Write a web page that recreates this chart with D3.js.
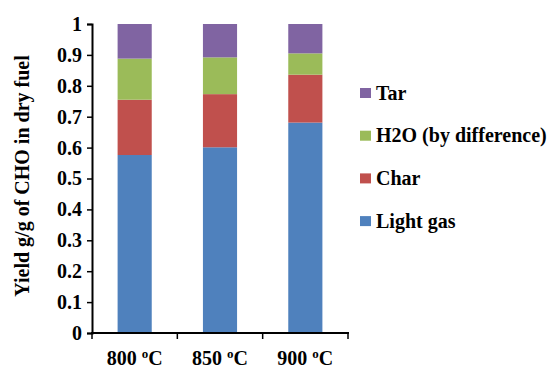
<!DOCTYPE html>
<html><head><meta charset="utf-8">
<script src="https://cdn.jsdelivr.net/npm/d3@7"></script>
<style>body{margin:0;background:#fff}svg{display:block}text{font-family:"Liberation Serif","Times New Roman",serif;font-weight:bold;fill:#000}</style>
</head><body><svg id="c" width="548" height="370"></svg>
<script>
const categories = ["800", "850", "900"];
const seriesNames = ["Light gas", "Char", "H2O (by difference)", "Tar"];
const lightGas = [0.576, 0.601, 0.681];
const charV = [0.179, 0.172, 0.155];
const h2o = [0.133, 0.119, 0.069];
const tar = [0.112, 0.108, 0.095];
const colors = ["#4F81BD", "#C0504D", "#9BBB59", "#8064A2"];
const yTicks = [0, 0.1, 0.2, 0.3, 0.4, 0.5, 0.6, 0.7, 0.8, 0.9, 1];

(function () {
const svg = d3.select("#c");
const mL = 92, mR = 348, mT = 24, mB = 333;
const FS = 20;
const x = d3.scaleBand().domain(categories).range([mL, mR]).paddingInner(0.6).paddingOuter(0.3);
const xb = d3.scaleBand().domain(categories).range([mL, mR]);
const y = d3.scaleLinear().domain([0, 1]).range([mB, mT]);

const rows = categories.map((c, i) => ({cat: c, "Light gas": lightGas[i], "Char": charV[i], "H2O (by difference)": h2o[i], "Tar": tar[i]}));
const stack = d3.stack().keys(seriesNames)(rows);

svg.append("g").selectAll("g").data(stack).join("g")
  .attr("fill", (d, i) => colors[i])
  .selectAll("rect").data(d => d).join("rect")
  .attr("x", d => x(d.data.cat))
  .attr("width", x.bandwidth())
  .attr("y", d => y(d[1]))
  .attr("height", d => y(d[0]) - y(d[1]));

// y axis
const ya = svg.append("g").attr("transform", `translate(${mL},0)`)
  .call(d3.axisLeft(y).tickValues(yTicks).tickSize(5).tickPadding(5).tickFormat(d => d === 0 ? "0" : d === 1 ? "1" : d3.format(".1f")(d)));
ya.select(".domain").attr("stroke", "#000").attr("stroke-width", 2);
ya.selectAll(".tick line").attr("stroke", "#000").attr("stroke-width", 1.5);
ya.selectAll(".tick text").attr("font-size", FS).style("font-family", '"Liberation Serif",serif').style("font-weight", "bold").attr("fill", "#000");

// x axis
const xg = svg.append("g");
xg.append("line").attr("x1", mL - 1).attr("x2", mR + 1).attr("y1", mB).attr("y2", mB).attr("stroke", "#000").attr("stroke-width", 2);
const bounds = categories.map(c => xb(c)).concat([mR]);
xg.selectAll("line.t").data(bounds).join("line").attr("class", "t")
  .attr("x1", d => d).attr("x2", d => d).attr("y1", mB).attr("y2", mB + 6)
  .attr("stroke", "#000").attr("stroke-width", 1.5);
const xl = xg.selectAll("text").data(categories).join("text")
  .attr("x", d => xb(d) + xb.bandwidth() / 2).attr("y", 365)
  .attr("text-anchor", "middle").attr("font-size", FS);
xl.append("tspan").text(d => d + " ");
xl.append("tspan").attr("font-size", 13).attr("dy", -7).text("o");
xl.append("tspan").attr("dy", 7).text("C");

// y label
svg.append("text").attr("transform", "translate(29,176) rotate(-90)")
  .attr("text-anchor", "middle").attr("font-size", FS).text("Yield g/g of CHO in dry fuel");

// legend
const legendOrder = [3, 2, 1, 0];
const lg = svg.append("g").selectAll("g").data(legendOrder).join("g")
  .attr("transform", (d, i) => `translate(360,${93 + i * 42.7})`);
lg.append("rect").attr("x", 0).attr("y", -5).attr("width", 11).attr("height", 10).attr("fill", d => colors[d]);
lg.append("text").attr("x", 16).attr("y", 6.5).attr("font-size", FS).text(d => seriesNames[d]);
})();
</script></body></html>
